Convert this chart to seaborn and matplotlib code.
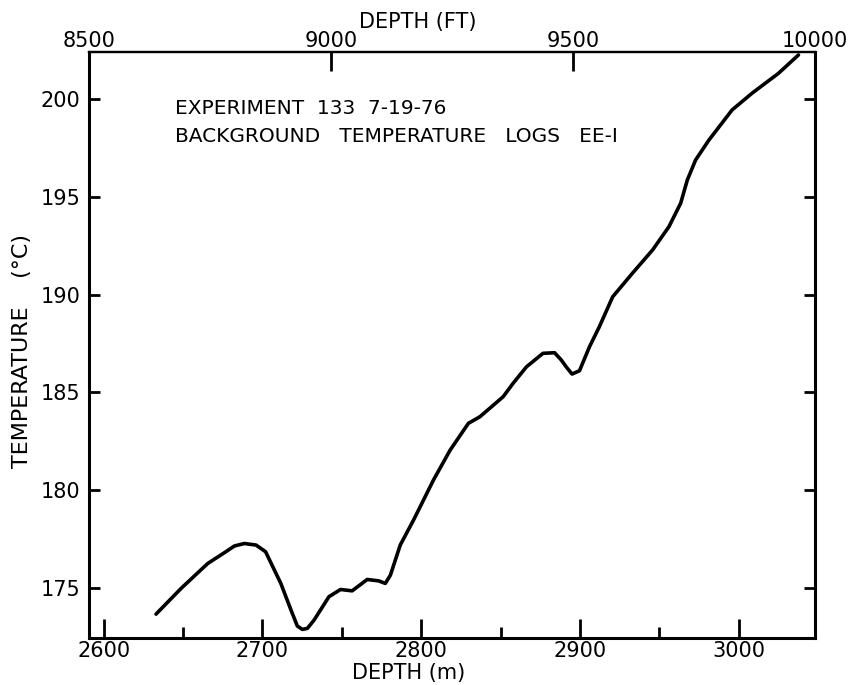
import numpy as np
import pandas as pd
import matplotlib
matplotlib.use("Agg")
import matplotlib.pyplot as plt
import seaborn as sns

# ---- data ----
depth_m = [2633, 2649, 2665.6, 2677, 2682.3, 2688.6, 2696, 2702, 2711.6, 2718,
           2722, 2725.2, 2728.3, 2732.5, 2741.9, 2749.2, 2756.5, 2766, 2773.2,
           2777.4, 2780.6, 2786.8, 2795.2, 2807.7, 2818.2, 2829.7, 2837, 2851.6,
           2857.9, 2866.3, 2876.7, 2884, 2888.2, 2891.3, 2895, 2899.7, 2906,
           2912.2, 2920.6, 2933, 2945.7, 2956, 2963.4, 2967.6, 2972.8, 2981.2,
           2995.8, 3008.3, 3025, 3037.6]
temp_c = [173.67, 175.0, 176.26, 176.86, 177.15, 177.28, 177.2, 176.86, 175.24,
          173.88, 173.06, 172.89, 172.94, 173.36, 174.56, 174.93, 174.86, 175.44,
          175.37, 175.24, 175.66, 177.2, 178.48, 180.52, 182.05, 183.42, 183.76,
          184.78, 185.47, 186.31, 187.0, 187.03, 186.66, 186.31, 185.94, 186.11,
          187.34, 188.36, 189.89, 191.09, 192.28, 193.47, 194.67, 195.86, 196.88,
          197.9, 199.44, 200.29, 201.31, 202.25]

x_major = [2600, 2700, 2800, 2900, 3000]
x_minor = [2650, 2750, 2850, 2950]
y_ticks = [175, 180, 185, 190, 195, 200]
ft_ticks = [8500, 9000, 9500, 10000]

title_lines = ["EXPERIMENT  133  7-19-76",
               "BACKGROUND   TEMPERATURE   LOGS   EE-I"]

df = pd.DataFrame({"depth": depth_m, "temp": temp_c})

sns.set_style("ticks")
plt.rcParams["font.family"] = ["DejaVu Sans"]
for k in ["text.color", "axes.labelcolor", "xtick.color", "ytick.color",
          "axes.edgecolor"]:
    plt.rcParams[k] = "black"

fig = plt.figure(figsize=(8.48, 6.85), dpi=100)
ax = fig.add_axes([89 / 848, 1 - 638 / 685, (815 - 89) / 848, (638 - 52) / 685])

sns.lineplot(data=df, x="depth", y="temp", sort=False, color="black",
             linewidth=2.6, ax=ax)

ax.set_xlim(2590.8, 3048.0)
ax.set_ylim(172.45, 202.4)

ax.set_xticks(x_major)
ax.set_xticks(x_minor, minor=True)
ax.set_yticks(y_ticks)
ax.tick_params(axis="x", which="major", direction="in", length=14, width=2,
               labelsize=15, pad=2)
ax.tick_params(axis="x", which="minor", direction="in", length=8, width=2)
ax.tick_params(axis="y", which="major", direction="in", length=8, width=2,
               labelsize=15, pad=6, right=True, left=True)

for s in ax.spines.values():
    s.set_linewidth(2.2)
ax.spines["top"].set_linewidth(1.6)

ax.set_xlabel("DEPTH (m)", fontsize=15)
ax.xaxis.set_label_coords(0.44, -0.043)
ax.set_ylabel("TEMPERATURE    (°C)", fontsize=16)
ax.yaxis.set_label_coords(-0.078, 0.49)

# top depth axis in feet
m2ft = lambda m: m / 0.3048
ft2m = lambda f: f * 0.3048
sec = ax.secondary_xaxis("top", functions=(m2ft, ft2m))
sec.set_xticks(ft_ticks)
sec.tick_params(direction="in", length=14, width=2, labelsize=15, pad=1)
sec.spines["top"].set_linewidth(1.6)
fig.text(418 / 848, 1 - 22 / 685, "DEPTH (FT)", fontsize=15,
         ha="center", va="center")

ax.text(0.118, 0.904, title_lines[0], transform=ax.transAxes, fontsize=14.5,
        ha="left", va="center")
ax.text(0.118, 0.855, title_lines[1], transform=ax.transAxes, fontsize=14.5,
        ha="left", va="center")

fig.savefig("out.png", dpi=100)
